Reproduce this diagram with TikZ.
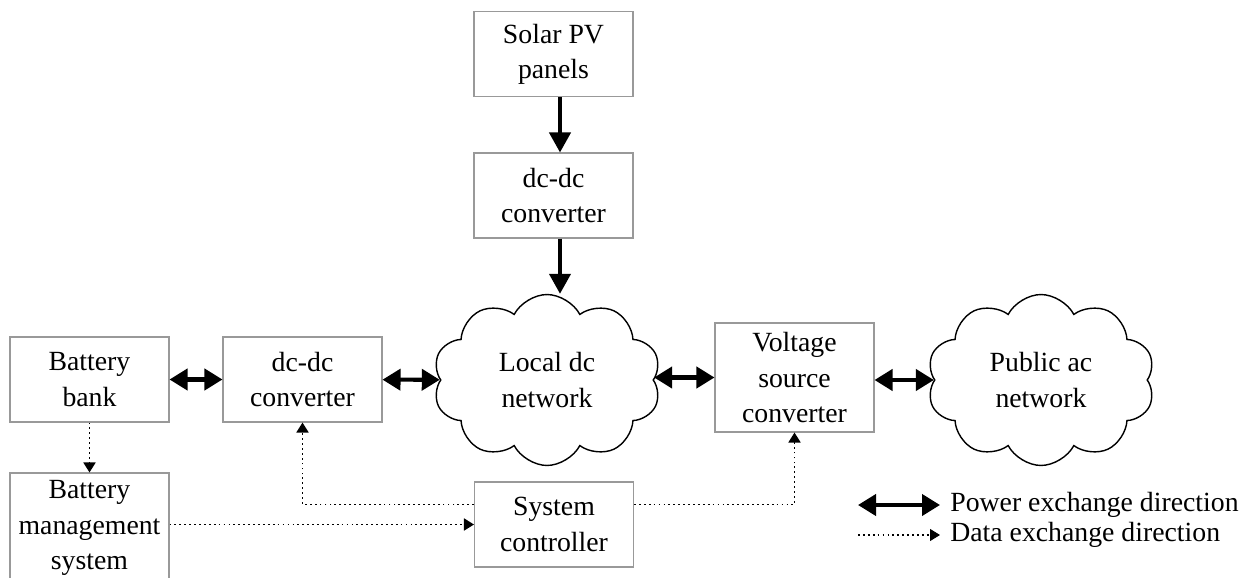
\documentclass[tikz,border=0pt]{standalone}
\usepackage{fontspec}
\setmainfont{Liberation Serif}
\usetikzlibrary{arrows.meta,shapes.symbols,positioning}

\tikzset{
  block/.style={rectangle, draw=black!40, line width=0.6pt, minimum width=3.18cm, minimum height=1.7cm, align=center, inner sep=0pt},
  netcloud/.style={cloud, draw, line width=0.8pt, cloud puffs=10, cloud puff arc=125, aspect=1.35, minimum width=4.56cm, minimum height=3.42cm, align=center, inner sep=0pt},
  power/.style={line width=2.3pt, {Triangle[length=3.6mm,width=4.2mm]}-{Triangle[length=3.6mm,width=4.2mm]}},
  feed/.style={line width=2.3pt, -{Triangle[length=4mm,width=4.2mm]}},
  data/.style={line width=1pt, dash pattern=on 1pt off 1.8pt, -{Triangle[length=2mm,width=2.4mm]}}
}

\begin{document}
\begin{tikzpicture}[x=0.02cm, y=-0.02cm,
    every node/.style={font=\fontsize{15.8}{20}\selectfont}]

\useasboundingbox (0,0) rectangle (1255,578);

% PV branch
\node[block] (solar) at (553.5,54) {Solar PV\\panels};
\node[block] (dctop) at (553.5,195.5) {dc-dc\\converter};

% dc side
\node[netcloud] (local) at (547,380) {Local dc\\network};
\node[block] (batt) at (89.5,379.5) {Battery\\bank};
\node[block] (dcbat) at (302.5,379.5) {dc-dc\\converter};
\node[block, minimum height=2.2cm] (bms) at (89.5,528) {Battery\\management\\system};
\node[block] (ctrl) at (554,524.5) {System\\controller};

% ac side
\node[block, minimum height=2.18cm] (vsc) at (794.5,377.5) {Voltage\\source\\converter};
\node[netcloud] (public) at (1041,380) {Public ac\\network};

% Power flow
\draw[feed] ([xshift=0.13cm]solar.south) -- ([xshift=0.13cm]dctop.north);
\draw[feed] ([xshift=0.13cm]dctop.south) -- ([xshift=0.13cm]dctop.south |- local.north);
\draw[power] (batt) -- (dcbat);
\draw[power] (dcbat) -- (local);
\draw[power] (local.east |- vsc.west) -- (vsc.west);
\draw[power] (vsc.east |- public.west) -- (public.west);

% Data flow
\draw[data] (batt) -- (bms);
\draw[data] (bms.east |- ctrl.west) -- (ctrl.west);
\draw[data] ([yshift=0.4cm]ctrl.west) -| (dcbat.south);
\draw[data] ([yshift=0.4cm]ctrl.east) -| (vsc.south);

% Legend
\coordinate (pwA) at (858,505);
\coordinate (pwB) at (940,505);
\coordinate (dtA) at (858,535);
\coordinate (dtB) at (940,535);
\draw[power] (pwA) -- (pwB);
\draw[data, line width=0.6pt] (dtA) -- (dtB);
\node[right=0.2cm of pwB, inner sep=0pt] (pwtxt) {Power exchange direction};
\node[right=0.2cm of dtB, inner sep=0pt] (dttxt) {Data exchange direction};

\end{tikzpicture}
\end{document}
